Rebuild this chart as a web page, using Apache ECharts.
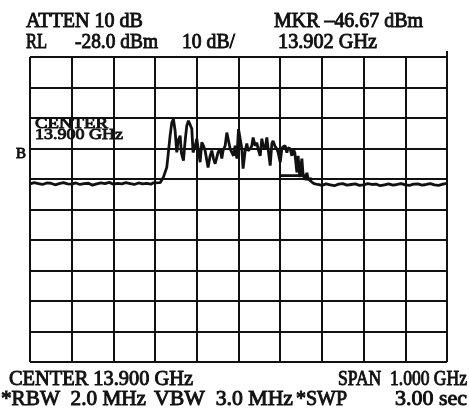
<!DOCTYPE html>
<html><head><meta charset="utf-8">
<script src="https://cdn.jsdelivr.net/npm/echarts@6/dist/echarts.min.js"></script>
<style>html,body{margin:0;padding:0;background:#fff}#c{width:469px;height:410px}</style>
</head><body><div id="c"></div>
<script>
// Reference level and scale
const refLevelDBm = -28.0;
const dbPerDiv = 10;
const startMHz = 13400, stopMHz = 14400, divMHz = 100;

// Trace: noise floor left of the signal
const leftNoiseFreq = [13400,13410,13420,13430,13440,13450,13460,13470,13480,13490,13500,13510,13520,13530,13540,13550,13560,13570,13580,13590,13600,13610,13620,13630,13640,13650,13660,13670,13680,13690];
const leftNoiseLevel = [-69.6,-69.2,-69.5,-69.8,-69.3,-69.4,-69.9,-69.5,-69.2,-69.6,-69.7,-69.3,-69.8,-69.5,-69.4,-70.0,-69.6,-69.3,-69.5,-69.1,-69.7,-69.4,-69.6,-69.2,-69.5,-69.8,-69.3,-69.6,-69.4,-69.7];

// Trace: signal band
const signalFreq = [13695,13712,13720,13728,13731,13736,13740,13744,13748,13752,13755,13760,13763,13768,13772,13776,13780,13784,13788,13791,13796,13800,13804,13808,13812,13816,13820,13827,13832,13836,13840,13844,13851,13856,13860,13863,13868,13872,13876,13880,13884,13888,13892,13896,13900,13904,13908,13911,13916,13920,13923,13928,13932,13935,13940,13944,13947,13952,13956,13959,13964,13968,13971,13976,13980,13983,13988,13992,13995,14000,14004,14007,14012,14016,14019,14024,14028,14031,14035,14040,14043,14047,14052,14055,14059,14064,14067,14071,14076,14081];
const signalLevel = [-69.3,-69.2,-67.4,-64.2,-60.4,-53.8,-49.5,-48.4,-52.2,-59.3,-55.5,-53.8,-59.4,-62.0,-55.5,-50.5,-48.9,-48.4,-51.5,-59.3,-57.1,-54.8,-58.7,-62.5,-56.0,-57.1,-58.7,-64.2,-60.4,-58.7,-61.3,-63.0,-59.3,-58.1,-61.3,-58.7,-57.1,-52.8,-53.2,-58.1,-58.1,-60.4,-57.1,-61.3,-51.6,-54.8,-58.1,-64.6,-58.7,-56.4,-58.7,-58.1,-57.1,-54.4,-57.1,-56.1,-58.1,-60.4,-54.8,-57.1,-58.1,-54.4,-58.1,-63.6,-56.4,-55.5,-57.4,-58.1,-59.3,-62.5,-58.1,-57.4,-57.1,-59.4,-57.8,-58.1,-60.4,-58.1,-59.3,-65.8,-60.4,-67.4,-61.3,-66.9,-67.9,-66.0,-67.9,-67.4,-69.0,-69.5];

// Trace: noise floor right of the signal
const rightNoiseFreq = [14090,14100,14110,14120,14130,14140,14150,14160,14170,14180,14190,14200,14210,14220,14230,14240,14250,14260,14270,14280,14290,14300,14310,14320,14330,14340,14350,14360,14370,14380,14390,14400];
const rightNoiseLevel = [-69.8,-70.1,-69.6,-69.9,-70.2,-69.7,-69.5,-70.0,-69.8,-69.6,-70.1,-69.9,-69.5,-69.8,-69.7,-70.2,-69.9,-69.6,-70.0,-69.8,-69.5,-69.9,-70.1,-69.7,-69.6,-70.0,-69.8,-69.5,-69.9,-70.1,-69.7,-69.4];

// Lower step of the band edge
const stepFreq = [14000,14059,14059,14076];
const stepLevel = [-66.9,-66.9,-68.0,-68.0];

// Annotation texts
const headerTexts = ["ATTEN 10 dB", "MKR \u201346.67 dBm", "RL", "-28.0 dBm", "10 dB/", "13.902 GHz"];
const innerTexts = ["CENTER", "13.900 GHz", "B"];
const footerTexts = ["CENTER 13.900 GHz", "SPAN  1.000 GHz", "*RBW  2.0 MHz", "VBW  3.0 MHz", "*SWP", "3.00 sec"];

const rel = v => v - refLevelDBm;
const pairs = (fs, ls) => fs.map((f, i) => [f, rel(ls[i])]);
const traceData = pairs(leftNoiseFreq, leftNoiseLevel)
  .concat(pairs(signalFreq, signalLevel))
  .concat(pairs(rightNoiseFreq, rightNoiseLevel));

const FONT = '"Liberation Serif", "Times New Roman", serif';
const ink = '#111';
const mctx = document.createElement('canvas').getContext('2d');
// text(t, anchorX, middleY, fontSize, targetWidth, align)
function txt(t, x, y, size, w, align) {
  mctx.font = 'normal normal ' + size + 'px ' + FONT;
  const mw = mctx.measureText(t).width;
  const sx = w ? w / mw : 1;
  return { type: 'text', x: x, y: y, scaleX: sx,
    style: { text: t, fontFamily: FONT, fontSize: size, fill: ink, textAlign: align || 'left', textVerticalAlign: 'middle', stroke: ink, lineWidth: 0.9 } };
}

const chart = echarts.init(document.getElementById('c'), null, { renderer: 'canvas' });
chart.setOption({
  animation: false,
  backgroundColor: '#fff',
  grid: { left: 30, top: 57, width: 417, height: 305, show: false },
  xAxis: {
    type: 'value', min: startMHz, max: stopMHz, interval: divMHz,
    axisLabel: { show: false }, axisTick: { show: false },
    axisLine: { show: false },
    splitLine: { show: true, lineStyle: { color: ink, width: 2 } }
  },
  yAxis: {
    type: 'value', min: -10 * dbPerDiv, max: 0, interval: dbPerDiv,
    axisLabel: { show: false }, axisTick: { show: false },
    axisLine: { show: false },
    splitLine: { show: true, lineStyle: { color: ink, width: 2 } }
  },
  series: [
    { type: 'line', data: traceData, showSymbol: false, lineStyle: { color: ink, width: 2.8 }, z: 5 },
    { type: 'line', data: pairs(stepFreq, stepLevel), showSymbol: false, lineStyle: { color: ink, width: 2.8 }, z: 5 }
  ],
  graphic: [
    txt(headerTexts[0], 26, 22, 20, 117),
    txt(headerTexts[1], 274, 22, 20, 149),
    txt(headerTexts[2], 26, 43, 20, 21),
    txt(headerTexts[3], 75, 43, 20, 83),
    txt(headerTexts[4], 182, 43, 20, 53),
    txt(headerTexts[5], 278, 43, 20, 99),
    txt(innerTexts[0], 35, 124, 15, 73),
    txt(innerTexts[1], 35, 135, 15, 88),
    txt(innerTexts[2], 16, 154, 15, 10),
    txt(footerTexts[0], 9, 380, 20, 184),
    txt(footerTexts[1], 467, 380, 20, 129, 'right'),
    txt(footerTexts[2], 1, 400, 20, 145),
    txt(footerTexts[3], 154, 400, 20, 139),
    txt(footerTexts[4], 296, 400, 20, 51),
    txt(footerTexts[5], 467, 400, 20, 72, 'right'),
    { type: 'line', shape: { x1: 447, y1: 51, x2: 447, y2: 57 }, style: { stroke: ink, lineWidth: 2 } }
  ]
});
</script></body></html>
